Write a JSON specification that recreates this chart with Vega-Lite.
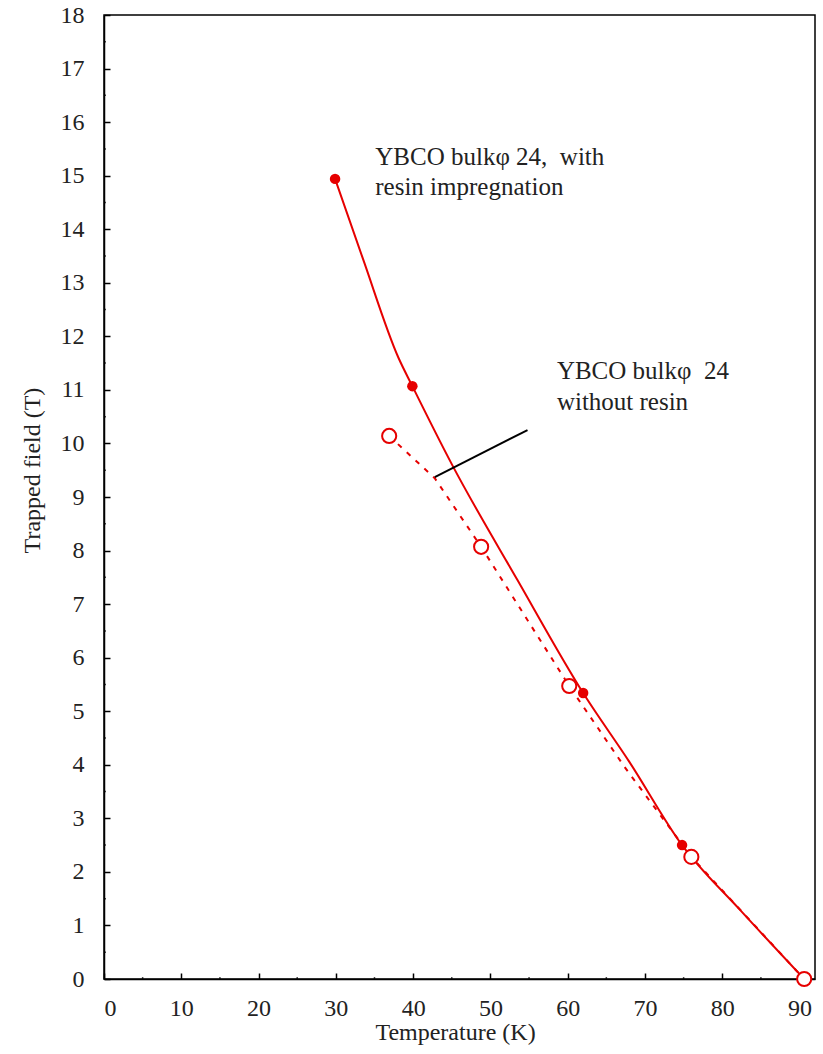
{
  "$schema": "https://vega.github.io/schema/vega-lite/v6.json",
  "width": 711,
  "height": 964,
  "autosize": "none",
  "padding": {"left": 104, "top": 15, "right": 8, "bottom": 75},
  "background": "white",
  "config": {
    "view": {"stroke": "black", "strokeWidth": 1.5},
    "font": "Liberation Serif",
    "axis": {
      "grid": false,
      "domainColor": "black",
      "domainWidth": 1.5,
      "tickColor": "black",
      "tickWidth": 1.5,
      "labelFont": "Liberation Serif",
      "labelFontSize": 24,
      "labelColor": "#222",
      "titleFont": "Liberation Serif",
      "titleFontSize": 24,
      "titleFontWeight": "normal",
      "titleColor": "#222"
    }
  },
  "datasets": {
    "curves": [
      {"series": "with", "T": 29.9, "B": 14.94, "marker": true},
      {"series": "with", "T": 33.5, "B": 13.45, "marker": false},
      {"series": "with", "T": 38.1, "B": 11.6, "marker": false},
      {"series": "with", "T": 39.9, "B": 11.07, "marker": true},
      {"series": "with", "T": 45.05, "B": 9.6, "marker": false},
      {"series": "with", "T": 53.5, "B": 7.45, "marker": false},
      {"series": "with", "T": 62.0, "B": 5.34, "marker": true},
      {"series": "with", "T": 68.0, "B": 4.05, "marker": false},
      {"series": "with", "T": 74.8, "B": 2.5, "marker": true},
      {"series": "with", "T": 82.3, "B": 1.29, "marker": false},
      {"series": "with", "T": 90.6, "B": 0.0, "marker": false},
      {"series": "without", "T": 36.9, "B": 10.14, "marker": true},
      {"series": "without", "T": 42.8, "B": 9.35, "marker": false},
      {"series": "without", "T": 48.8, "B": 8.07, "marker": true},
      {"series": "without", "T": 60.2, "B": 5.47, "marker": true},
      {"series": "without", "T": 67.4, "B": 3.95, "marker": false},
      {"series": "without", "T": 76.0, "B": 2.28, "marker": true},
      {"series": "without", "T": 90.6, "B": 0.0, "marker": true}
    ],
    "pointer": [
      {"T": 42.8, "B": 9.37, "T2": 54.8, "B2": 10.25}
    ],
    "labels": [
      {"T": 35.1, "B": 15.35, "text": "YBCO bulkφ 24,\u00a0 with"},
      {"T": 35.1, "B": 14.79, "text": "resin impregnation"},
      {"T": 58.6, "B": 11.35, "text": "YBCO bulkφ\u00a0 24"},
      {"T": 58.6, "B": 10.77, "text": "without resin"}
    ]
  },
  "layer": [
    {
      "data": {"name": "curves"},
      "transform": [{"filter": "datum.series === 'with'"}],
      "mark": {"type": "line", "color": "#e60000", "strokeWidth": 2, "interpolate": "monotone"},
      "encoding": {
        "x": {"field": "T", "type": "quantitative", "scale": {"domain": [0, 92], "nice": false},
          "axis": {"values": [0, 10, 20, 30, 40, 50, 60, 70, 80, 90], "tickSize": -6, "labelPadding": 23, "labelFont": "Liberation Serif", "labelFontSize": 24, "title": "Temperature (K)", "titleX": 351, "titleY": 53, "titleBaseline": "middle"}},
        "y": {"field": "B", "type": "quantitative", "scale": {"domain": [0, 18], "nice": false},
          "axis": {"values": [0, 1, 2, 3, 4, 5, 6, 7, 8, 9, 10, 11, 12, 13, 14, 15, 16, 17, 18], "tickSize": -6, "labelPadding": 26, "labelFont": "Liberation Serif", "labelFontSize": 24, "title": "Trapped field  (T)", "titleX": -72, "titleY": 455, "titleAngle": -90, "titleBaseline": "middle"}}
      }
    },
    {
      "data": {"name": "curves"},
      "transform": [{"filter": "datum.series === 'without'"}],
      "mark": {"type": "line", "color": "#e60000", "strokeWidth": 2, "strokeDash": [5, 7]},
      "encoding": {
        "x": {"field": "T", "type": "quantitative"},
        "y": {"field": "B", "type": "quantitative"}
      }
    },
    {
      "data": {"values": [{"v": 5}, {"v": 15}, {"v": 25}, {"v": 35}, {"v": 45}, {"v": 55}, {"v": 65}, {"v": 75}, {"v": 85}]},
      "mark": {"type": "point", "shape": "M0,0L0,-1", "size": 16, "stroke": "black", "strokeWidth": 1.5, "filled": false},
      "encoding": {
        "x": {"field": "v", "type": "quantitative"},
        "y": {"datum": 0, "type": "quantitative"}
      }
    },
    {
      "data": {"values": [{"v": 0.5}, {"v": 1.5}, {"v": 2.5}, {"v": 3.5}, {"v": 4.5}, {"v": 5.5}, {"v": 6.5}, {"v": 7.5}, {"v": 8.5}, {"v": 9.5}, {"v": 10.5}, {"v": 11.5}, {"v": 12.5}, {"v": 13.5}, {"v": 14.5}, {"v": 15.5}, {"v": 16.5}, {"v": 17.5}]},
      "mark": {"type": "point", "shape": "M0,0L1,0", "size": 16, "stroke": "black", "strokeWidth": 1.5, "filled": false},
      "encoding": {
        "x": {"datum": 0, "type": "quantitative"},
        "y": {"field": "v", "type": "quantitative"}
      }
    },
    {
      "data": {"name": "pointer"},
      "mark": {"type": "rule", "color": "black", "strokeWidth": 2},
      "encoding": {
        "x": {"field": "T", "type": "quantitative"},
        "y": {"field": "B", "type": "quantitative"},
        "x2": {"field": "T2"},
        "y2": {"field": "B2"}
      }
    },
    {
      "data": {"name": "curves"},
      "transform": [{"filter": "datum.series === 'with' && datum.marker"}],
      "mark": {"type": "point", "shape": "circle", "filled": true, "color": "#e60000", "size": 110, "opacity": 1},
      "encoding": {
        "x": {"field": "T", "type": "quantitative"},
        "y": {"field": "B", "type": "quantitative"}
      }
    },
    {
      "data": {"name": "curves"},
      "transform": [{"filter": "datum.series === 'without' && datum.marker"}],
      "mark": {"type": "point", "shape": "circle", "filled": true, "fill": "white", "stroke": "#e60000", "strokeWidth": 2, "size": 200, "opacity": 1},
      "encoding": {
        "x": {"field": "T", "type": "quantitative"},
        "y": {"field": "B", "type": "quantitative"}
      }
    },
    {
      "data": {"name": "labels"},
      "mark": {"type": "text", "align": "left", "baseline": "middle", "font": "Liberation Serif", "fontSize": 25, "color": "#222"},
      "encoding": {
        "x": {"field": "T", "type": "quantitative"},
        "y": {"field": "B", "type": "quantitative"},
        "text": {"field": "text"}
      }
    }
  ]
}
